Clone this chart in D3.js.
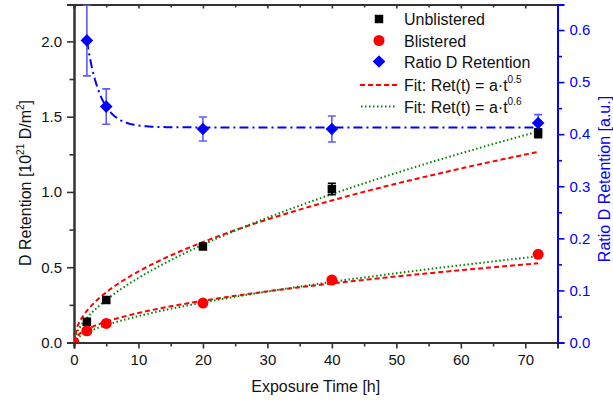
<!DOCTYPE html>
<html>
<head>
<meta charset="utf-8">
<script src="https://cdn.jsdelivr.net/npm/d3@7"></script>
<style>
  body { margin: 0; background: #fff; }
  text { font-family: "Liberation Sans", Arial, sans-serif; }
</style>
</head>
<body>
<div id="chart"></div>
<script>
// exposure times [h]
var times = [0, 2, 5, 20, 40, 72];
var unblistered = [0, 0.138, 0.282, 0.637, 1.02, 1.39];
var unblisteredErr = [0, 0.02, 0.02, 0.015, 0.038, 0.03];
var blistered = [0, 0.078, 0.127, 0.262, 0.415, 0.586];

var ratioTimes = [2, 5, 20, 40, 72];
var ratio = [0.58, 0.453, 0.41, 0.41, 0.4215];
var ratioErr = [0.068, 0.034, 0.023, 0.025, 0.016];

// fit coefficients
var fitA05 = [0.1492, 0.062];   // unblistered, blistered: a*t^0.5
var fitA06 = [0.1077, 0.044];   // unblistered, blistered: a*t^0.6
var ratioFit = { y0: 0.413, A: 0.432, tau: 2.1 };

var xTicks = [0, 10, 20, 30, 40, 50, 60, 70];
var yTicks = [0, 0.5, 1.0, 1.5, 2.0];
var y2Ticks = [0, 0.1, 0.2, 0.3, 0.4, 0.5, 0.6];

var W = 613, H = 406;
var mLeft = 74, mRight = 557.5, mTop = 4.5, mBottom = 342.5;

var svg = d3.select('#chart').append('svg')
  .attr('width', W)
  .attr('height', H);

var x = d3.scaleLinear().domain([0, 75]).range([mLeft, mRight]);
var y = d3.scaleLinear().domain([0, 2.245]).range([mBottom, mTop]);
var y2 = d3.scaleLinear().domain([0, 0.649]).range([mBottom, mTop]);

svg.append('clipPath').attr('id', 'clip')
  .append('rect')
  .attr('x', mLeft).attr('y', mTop)
  .attr('width', mRight - mLeft).attr('height', mBottom - mTop);

var axisColor = '#333';

// bottom axis
svg.append('g')
  .attr('transform', 'translate(0,' + mBottom + ')')
  .call(d3.axisBottom(x).tickValues(xTicks).tickSize(6).tickPadding(6).tickFormat(d3.format('d')));
svg.append('g')
  .attr('transform', 'translate(0,' + mBottom + ')')
  .call(d3.axisBottom(x).tickValues(d3.range(5, 75, 10)).tickSize(4).tickFormat(''));

// top axis (ticks inward)
svg.append('g')
  .attr('transform', 'translate(0,' + mTop + ')')
  .call(d3.axisBottom(x).tickValues(xTicks).tickSize(4).tickFormat(''));
svg.append('g')
  .attr('transform', 'translate(0,' + mTop + ')')
  .call(d3.axisBottom(x).tickValues(d3.range(5, 75, 10)).tickSize(3).tickFormat(''));

// left axis
svg.append('g')
  .attr('transform', 'translate(' + mLeft + ',0)')
  .call(d3.axisLeft(y).tickValues(yTicks).tickSize(7).tickPadding(5).tickFormat(d3.format('.1f')));
svg.append('g')
  .attr('transform', 'translate(' + mLeft + ',0)')
  .call(d3.axisLeft(y).tickValues([0.25, 0.75, 1.25, 1.75]).tickSize(4.5).tickFormat(''));

// right axis (blue)
svg.append('g')
  .attr('class', 'raxis')
  .attr('transform', 'translate(' + mRight + ',0)')
  .call(d3.axisRight(y2).tickValues(y2Ticks).tickSize(7).tickPadding(5).tickFormat(d3.format('.1f')));
svg.append('g')
  .attr('class', 'raxis')
  .attr('transform', 'translate(' + mRight + ',0)')
  .call(d3.axisRight(y2).tickValues([0.05, 0.15, 0.25, 0.35, 0.45, 0.55]).tickSize(4.5).tickFormat(''));

svg.selectAll('.domain').attr('stroke', axisColor).attr('stroke-width', 2);
svg.selectAll('.tick line').attr('stroke', axisColor).attr('stroke-width', 1.6);
svg.selectAll('.tick text').attr('fill', '#111').attr('font-size', 15)
  .style('font-family', '"Liberation Sans", Arial, sans-serif');
svg.selectAll('.raxis .domain, .raxis .tick line').attr('stroke', '#0000ff');
svg.selectAll('.raxis .tick text').attr('fill', '#0000ff');

// axis titles
svg.append('text')
  .attr('x', (mLeft + mRight) / 2).attr('y', 392)
  .attr('text-anchor', 'middle').attr('font-size', 16).attr('fill', '#111')
  .text('Exposure Time [h]');

var yl = svg.append('text')
  .attr('transform', 'translate(31,183) rotate(-90)')
  .attr('text-anchor', 'middle').attr('font-size', 16).attr('fill', '#111');
yl.append('tspan').text('D Retention [10');
yl.append('tspan').attr('dy', -7).attr('font-size', 10).text('21');
yl.append('tspan').attr('dy', 7).text(' D/m');
yl.append('tspan').attr('dy', -7).attr('font-size', 10).text('2');
yl.append('tspan').attr('dy', 7).text(']');

svg.append('text')
  .attr('transform', 'translate(610,179) rotate(-90)')
  .attr('text-anchor', 'middle').attr('font-size', 16).attr('fill', '#0000ff')
  .text('Ratio D Retention [a.u.]');

var plot = svg.append('g').attr('clip-path', 'url(#clip)');

// fit curves
var tFit = d3.range(0, 72.01, 0.5);
var line = d3.line().x(function(d) { return x(d[0]); }).y(function(d) { return y(d[1]); });

fitA05.forEach(function(a) {
  plot.append('path')
    .attr('d', line(tFit.map(function(t) { return [t, a * Math.pow(t, 0.5)]; })))
    .attr('fill', 'none').attr('stroke', '#ff0000').attr('stroke-width', 2)
    .attr('stroke-dasharray', '5,3');
});
fitA06.forEach(function(a) {
  plot.append('path')
    .attr('d', line(tFit.map(function(t) { return [t, a * Math.pow(t, 0.6)]; })))
    .attr('fill', 'none').attr('stroke', '#008000').attr('stroke-width', 2)
    .attr('stroke-dasharray', '1.5,2.5');
});

var tRatio = d3.range(2, 72.01, 0.25);
plot.append('path')
  .attr('d', d3.line()
    .x(function(t) { return x(t); })
    .y(function(t) { return y2(ratioFit.y0 + ratioFit.A * Math.exp(-t / ratioFit.tau)); })(tRatio))
  .attr('fill', 'none').attr('stroke', '#0000ff').attr('stroke-width', 2)
  .attr('stroke-dasharray', '9,4,2,4');

// error bars
function errBars(xs, vals, errs, scale, color) {
  var g = plot.append('g').attr('stroke', color).attr('stroke-width', 1.6);
  xs.forEach(function(t, i) {
    if (!errs[i]) return;
    var cx = x(t), y0 = scale(vals[i] - errs[i]), y1 = scale(vals[i] + errs[i]);
    g.append('line').attr('x1', cx).attr('x2', cx).attr('y1', y0).attr('y2', y1);
    g.append('line').attr('x1', cx - 4).attr('x2', cx + 4).attr('y1', y0).attr('y2', y0);
    g.append('line').attr('x1', cx - 4).attr('x2', cx + 4).attr('y1', y1).attr('y2', y1);
  });
}
errBars(times, unblistered, unblisteredErr, y, '#000');
errBars(ratioTimes, ratio, ratioErr, y2, '#5a5aff');

// markers
var square = d3.symbol().type(d3.symbolSquare).size(72);
var circle = d3.symbol().type(d3.symbolCircle).size(95);
var diamond = d3.symbol().type(d3.symbolSquare).size(80);

plot.selectAll('.sq').data(times).enter().append('path')
  .attr('d', square)
  .attr('transform', function(d, i) { return 'translate(' + x(d) + ',' + y(unblistered[i]) + ')'; })
  .attr('fill', '#000');
plot.selectAll('.ci').data(times).enter().append('path')
  .attr('d', circle)
  .attr('transform', function(d, i) { return 'translate(' + x(d) + ',' + y(blistered[i]) + ')'; })
  .attr('fill', '#ff0000');
plot.selectAll('.di').data(ratioTimes).enter().append('path')
  .attr('d', diamond)
  .attr('transform', function(d, i) { return 'translate(' + x(d) + ',' + y2(ratio[i]) + ') rotate(45)'; })
  .attr('fill', '#0000ff');

// legend
var lg = svg.append('g');
var lx = 379, tx = 404;
var rows = [19, 40.5, 61.5, 85, 106.5];
lg.append('path').attr('d', square).attr('transform', 'translate(' + lx + ',' + rows[0] + ')').attr('fill', '#000');
lg.append('path').attr('d', circle).attr('transform', 'translate(' + lx + ',' + rows[1] + ')').attr('fill', '#ff0000');
lg.append('path').attr('d', diamond).attr('transform', 'translate(' + lx + ',' + rows[2] + ') rotate(45)').attr('fill', '#0000ff');
lg.append('line').attr('x1', 360).attr('x2', 399).attr('y1', rows[3]).attr('y2', rows[3])
  .attr('stroke', '#ff0000').attr('stroke-width', 2).attr('stroke-dasharray', '5,3');
lg.append('line').attr('x1', 361).attr('x2', 396).attr('y1', rows[4]).attr('y2', rows[4])
  .attr('stroke', '#008000').attr('stroke-width', 2).attr('stroke-dasharray', '1.5,2.5');

var labels = ['Unblistered', 'Blistered', 'Ratio D Retention'];
labels.forEach(function(l, i) {
  lg.append('text').attr('x', tx).attr('y', rows[i] + 6).attr('font-size', 16).attr('fill', '#111').text(l);
});
['0.5', '0.6'].forEach(function(p, i) {
  var t = lg.append('text').attr('x', tx).attr('y', rows[3 + i] + 6).attr('font-size', 16).attr('fill', '#111');
  t.append('tspan').text('Fit: Ret(t) = a\u00b7t');
  t.append('tspan').attr('dy', -8).attr('font-size', 10).text(p);
});
</script>
</body>
</html>
